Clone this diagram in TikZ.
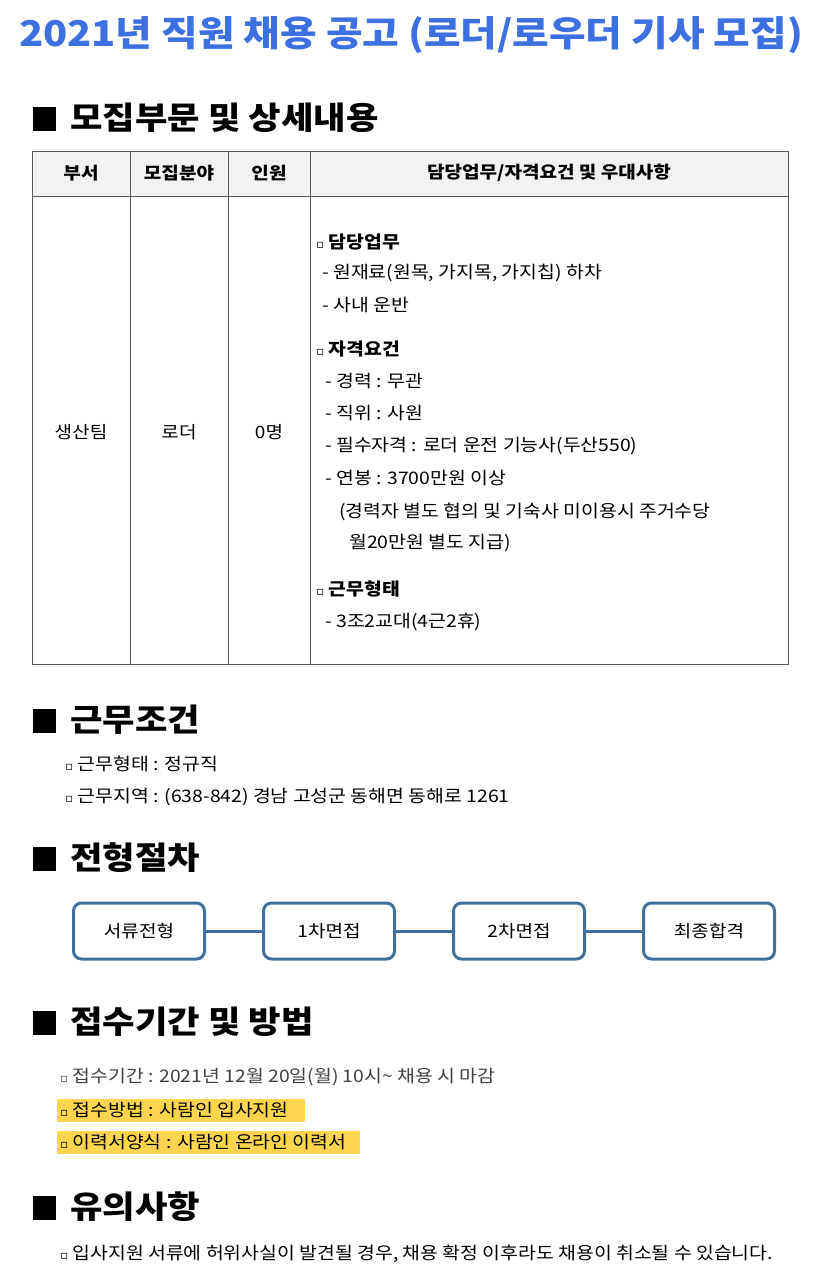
\documentclass[tikz,border=0pt]{standalone}
\usepackage{fontspec}
\setmainfont{Noto Sans CJK KR}[FakeStretch=1.12]
\newfontfamily\symfont{DejaVu Sans}
\usetikzlibrary{positioning}
\definecolor{titleblue}{HTML}{3C6FE0}
\definecolor{boxblue}{HTML}{41709C}
\definecolor{hilite}{HTML}{FFD44F}
\definecolor{headgray}{HTML}{F2F2F2}
\newcommand{\sq}{{\symfont\fontsize{12}{12}\selectfont ▫}}
\tikzstyle{header} = [anchor=west, font=\fontsize{31.5}{36}\selectfont\bfseries, inner sep=0pt]
\tikzstyle{txt} = [anchor=west, font=\fontsize{17.3}{20}\selectfont, inner sep=0pt]
\tikzstyle{stage} = [draw=boxblue, line width=3pt, rounded corners=8pt, minimum width=131pt, minimum height=56pt, font=\fontsize{17}{20}\selectfont]
\tikzstyle{link} = [draw=boxblue, line width=3pt]
\begin{document}
\begin{tikzpicture}[x=1pt,y=-1pt]
                \useasboundingbox (0,0) rectangle (835,1279);
                % Title
                \node [font=\fontsize{35.5}{40}\selectfont\bfseries, text=titleblue] (title) at (411,35) {2021년 직원 채용 공고 (로더/로우더 기사 모집)};

                % Section 1
                \fill (33,107) rectangle (56,131);
                \node [header] (sec1) at (70,118) {모집부문 및 상세내용};
                \fill [headgray] (32,151) rectangle (788,196);
                \draw [gray!70!black] (32,151) rectangle (788,664);
                \draw [gray!70!black] (32,196) -- (788,196);
                \foreach \x in {130,228,310} \draw [gray!70!black] (\x,151) -- (\x,664);
                \foreach \t/\x in {{부서}/81, {모집분야}/179, {인원}/269, {담당업무/자격요건 및 우대사항}/549}
                    \node [font=\fontsize{17}{20}\selectfont\bfseries] at (\x,173) {\t};
                \node [font=\fontsize{17}{20}\selectfont] (dept) at (81,432) {생산팀};
                \node [font=\fontsize{17}{20}\selectfont] (field) at (179,432) {로더};
                \node [font=\fontsize{17}{20}\selectfont] (num) at (269,432) {0명};
                \node [txt, font=\fontsize{17.3}{20}\selectfont\bfseries] (duty) at (316,242) {\sq\ 담당업무};
                \node [txt] at (322,273) {- 원재료(원목, 가지목, 가지칩) 하차};
                \node [txt] at (322,305) {- 사내 운반};
                \node [txt, font=\fontsize{17.3}{20}\selectfont\bfseries] (qual) at (316,349) {\sq\ 자격요건};
                \node [txt] at (325,381) {- 경력 : 무관};
                \node [txt] at (325,413) {- 직위 : 사원};
                \node [txt] at (325,446) {- 필수자격 : 로더 운전 기능사(두산550)};
                \node [txt] at (325,478) {- 연봉 : 3700만원 이상};
                \node [txt] at (339,512) {(경력자 별도 협의 및 기숙사 미이용시 주거수당};
                \node [txt] at (349,543) {월20만원 별도 지급)};
                \node [txt, font=\fontsize{17.3}{20}\selectfont\bfseries] (shift) at (316,589) {\sq\ 근무형태};
                \node [txt] at (325,622) {- 3조2교대(4근2휴)};

                % Section 2
                \fill (33,709) rectangle (56,733);
                \node [header] (sec2) at (70,720) {근무조건};
                \node [txt] at (65,764) {\sq\ 근무형태 : 정규직};
                \node [txt] at (65,797) {\sq\ 근무지역 : (638-842) 경남 고성군 동해면 동해로 1261};

                % Section 3
                \fill (33,847) rectangle (56,871);
                \node [header] (sec3) at (70,858) {전형절차};
                \node [stage] (s1) at (139,931) {서류전형};
                \node [stage, right=56pt of s1] (s2) {1차면접};
                \node [stage, right=56pt of s2] (s3) {2차면접};
                \node [stage, right=56pt of s3] (s4) {최종합격};
                \path [link] (s1) -- (s2);
                \path [link] (s2) -- (s3);
                \path [link] (s3) -- (s4);

                % Section 4
                \fill (33,1011) rectangle (56,1035);
                \node [header] (sec4) at (70,1022) {접수기간 및 방법};
                \node [txt, text=black!75] at (60,1077) {\sq\ 접수기간 : 2021년 12월 20일(월) 10시\textasciitilde\ 채용 시 마감};
                \fill [hilite] (57,1099) rectangle (305,1122);
                \node [txt] at (60,1110) {\sq\ 접수방법 : 사람인 입사지원};
                \fill [hilite] (57,1131) rectangle (360,1154);
                \node [txt] at (60,1142) {\sq\ 이력서양식 : 사람인 온라인 이력서};

                % Section 5
                \fill (33,1196) rectangle (56,1220);
                \node [header] (sec5) at (70,1207) {유의사항};
                \node [txt] at (60,1254) {\sq\ 입사지원 서류에 허위사실이 발견될 경우, 채용 확정 이후라도 채용이 취소될 수 있습니다.};
            \end{tikzpicture}
\end{document}
